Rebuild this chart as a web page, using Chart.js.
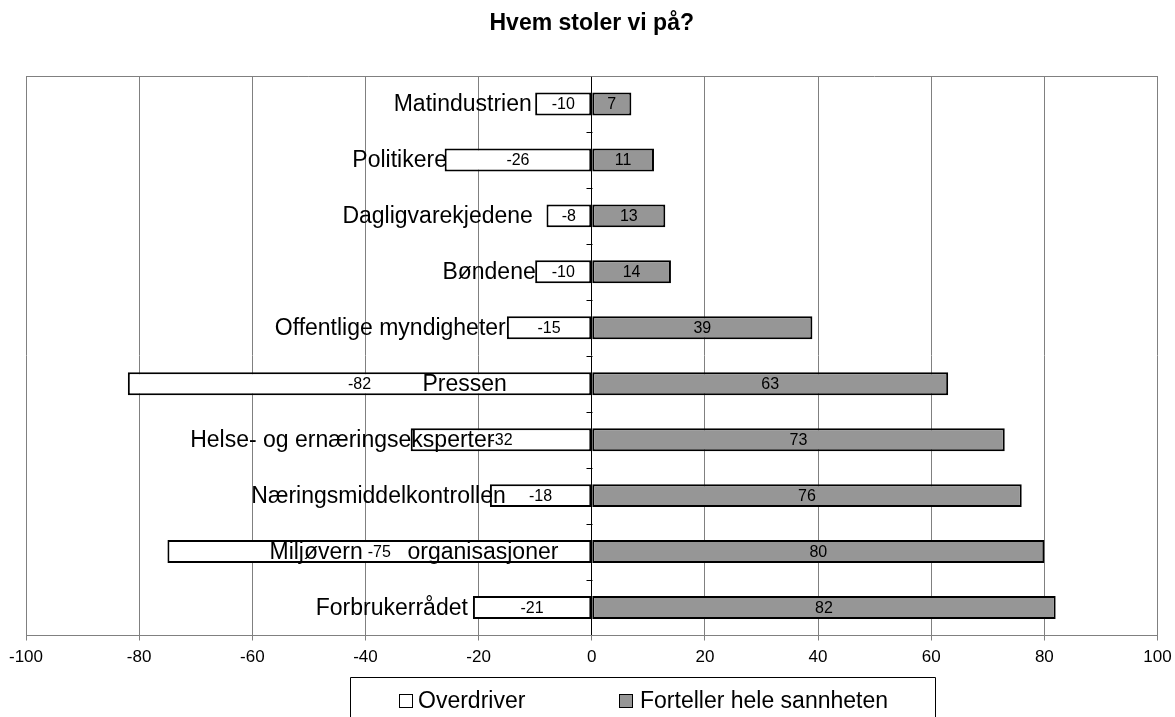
<!DOCTYPE html>
<html><head><meta charset="utf-8">
<script src="https://cdn.jsdelivr.net/npm/chart.js@4"></script>
<style>html,body{margin:0;padding:0;background:#fff}#wrap{width:1175px;height:717px;position:relative}</style>
</head><body><div id="wrap"><canvas id="c"></canvas></div>
<script>
const categories = ['Matindustrien','Politikere','Dagligvarekjedene','Bøndene','Offentlige myndigheter','Pressen','Helse- og ernæringseksperter','Næringsmiddelkontrollen','Miljøvern       organisasjoner','Forbrukerrådet'];
const overdriver = [-10,-26,-8,-10,-15,-82,-32,-18,-75,-21];
const fortellerHeleSannheten = [7,11,13,14,39,63,73,76,80,82];
const seriesNames = ['Overdriver','Forteller hele sannheten'];
const chartTitle = 'Hvem stoler vi på?';
const xMin = -100, xMax = 100, xStep = 20;

const FONT = '"Liberation Sans", Arial, Helvetica, sans-serif';
// right end of each category label, in axis units (text placement only)
const labelEnds = [-10.6,-25.6,-10.4,-9.9,-15.2,-15.0,-17.2,-15.2,-5.9,-21.9];

const overlay = {
  id: 'overlay',
  afterDatasetsDraw(chart) {
    const {ctx, chartArea: a, scales: {x, y}} = chart;
    ctx.save();
    ctx.lineWidth = 1;
    ctx.strokeStyle = '#808080';
    ctx.beginPath();
    ctx.moveTo(a.left, Math.round(a.top) + 0.5);
    ctx.lineTo(a.right, Math.round(a.top) + 0.5);
    ctx.stroke();
    const x0 = Math.round(x.getPixelForValue(0)) + 0.5;
    ctx.strokeStyle = '#000';
    ctx.beginPath();
    for (let i = 1; i < categories.length; i++) {
      const yy = Math.round(y.getPixelForValue(i - 0.5)) + 0.5;
      ctx.moveTo(x0 - 6, yy); ctx.lineTo(x0, yy);
    }
    ctx.stroke();
    ctx.fillStyle = '#000';
    ctx.font = '16px ' + FONT;
    ctx.textAlign = 'center';
    ctx.textBaseline = 'middle';
    chart.data.datasets.forEach((ds, di) => {
      chart.getDatasetMeta(di).data.forEach((bar, i) => {
        const cx = (bar.x + bar.base) / 2;
        ctx.fillText(String(ds.data[i]), cx, bar.y + 1);
      });
    });
    ctx.font = '23px ' + FONT;
    ctx.textAlign = 'right';
    categories.forEach((c, i) => {
      ctx.fillText(c, x.getPixelForValue(labelEnds[i]), y.getPixelForValue(i) + 1);
    });
    ctx.restore();
  },
  afterDraw(chart) {
    const ctx = chart.ctx;
    ctx.save();
    ctx.strokeStyle = '#000';
    ctx.lineWidth = 1;
    ctx.beginPath();
    ctx.moveTo(350.5, 717); ctx.lineTo(350.5, 677.5); ctx.lineTo(935.5, 677.5); ctx.lineTo(935.5, 717);
    ctx.stroke();
    const items = [{bx: 399, tx: 418}, {bx: 619, tx: 640}];
    ctx.font = '23px ' + FONT;
    ctx.textAlign = 'left';
    ctx.textBaseline = 'middle';
    chart.data.datasets.forEach((ds, i) => {
      const it = items[i];
      ctx.fillStyle = ds.backgroundColor;
      ctx.fillRect(it.bx, 694, 14, 14);
      ctx.strokeStyle = '#000';
      ctx.strokeRect(it.bx + 0.5, 694.5, 13, 13);
      ctx.fillStyle = '#000';
      ctx.fillText(ds.label, it.tx, 701.5);
    });
    ctx.restore();
  }
};

new Chart(document.getElementById('c'), {
  type: 'bar',
  data: {
    labels: categories,
    datasets: [
      {label: seriesNames[0], data: overdriver, backgroundColor: '#ffffff', borderColor: '#000000', borderWidth: 2, borderSkipped: false},
      {label: seriesNames[1], data: fortellerHeleSannheten, backgroundColor: '#969696', borderColor: '#000000', borderWidth: 2, borderSkipped: false}
    ]
  },
  options: {
    indexAxis: 'y',
    responsive: true,
    maintainAspectRatio: false,
    animation: false,
    barPercentage: 0.41,
    categoryPercentage: 1,
    layout: {padding: {left: 26, right: 17.5, top: 0, bottom: 0}},
    plugins: {
      legend: {display: false},
      tooltip: {enabled: false},
      title: {
        display: true, text: chartTitle, color: '#000',
        font: {family: FONT, size: 23, weight: 'bold', lineHeight: 1.2},
        padding: {top: 10, bottom: 38.4}
      }
    },
    scales: {
      x: {
        stacked: true, min: xMin, max: xMax,
        ticks: {stepSize: xStep, color: '#000', font: {family: FONT, size: 17}, padding: 7, maxRotation: 0},
        grid: {color: c => (c.tick && c.tick.value === 0) ? '#000000' : '#808080', tickLength: 5, tickColor: '#808080', lineWidth: 1},
        border: {color: '#808080', width: 1},
        afterFit: s => { s.height = 81.5; s.paddingLeft = 0; s.paddingRight = 0; }
      },
      y: {
        stacked: true, display: false
      }
    }
  },
  plugins: [overlay]
});
</script></body></html>
